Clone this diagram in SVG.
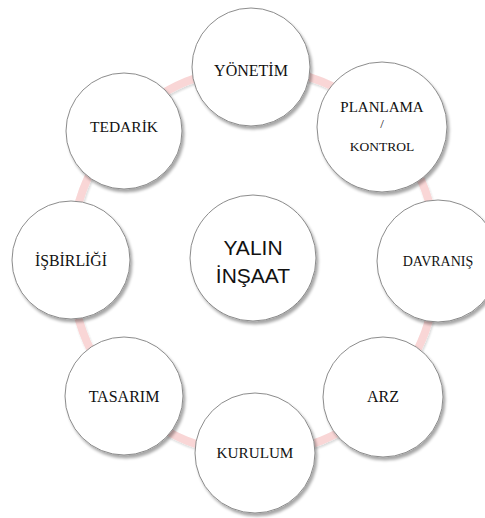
<svg xmlns="http://www.w3.org/2000/svg" width="485" height="518" viewBox="0 0 485 518">
  <defs>
    <filter id="sh" x="-20%" y="-20%" width="140%" height="140%">
      <feGaussianBlur in="SourceAlpha" stdDeviation="1.8"/>
      <feOffset dx="1.5" dy="2.5" result="b"/>
      <feComponentTransfer><feFuncA type="linear" slope="0.35"/></feComponentTransfer>
      <feMerge><feMergeNode/><feMergeNode in="SourceGraphic"/></feMerge>
    </filter>
    <filter id="rsh" x="-10%" y="-10%" width="120%" height="120%">
      <feGaussianBlur in="SourceAlpha" stdDeviation="1"/>
      <feOffset dx="0.5" dy="1.5" result="b"/>
      <feComponentTransfer><feFuncA type="linear" slope="0.15"/></feComponentTransfer>
      <feMerge><feMergeNode/><feMergeNode in="SourceGraphic"/></feMerge>
    </filter>
  </defs>
  <style>
    .node circle { fill: #ffffff; stroke: #7f7f7f; stroke-width: 0.9; filter: url(#sh); }
    .lbl { font-family: "Liberation Serif", "Times New Roman", serif; fill: #111111; text-anchor: middle; }
    .ctr { font-family: "Liberation Sans", Arial, sans-serif; font-size: 21px; fill: #111111; text-anchor: middle; }
    .ring { fill: none; stroke: #f9d6d6; stroke-width: 8; filter: url(#rsh); }
  </style>
  <rect width="485" height="518" fill="#ffffff"/>
  <g id="connectors">
    <ellipse class="ring" cx="254" cy="261" rx="184" ry="193"/>
  </g>
  <g id="center" class="node">
    <circle cx="253" cy="258" r="63"/>
    <text class="ctr" x="253" y="255">YALIN</text>
    <text class="ctr" x="253" y="283">İNŞAAT</text>
  </g>
  <g id="yonetim" class="node">
    <circle cx="251" cy="67" r="59"/>
    <text class="lbl" x="251" y="76" font-size="16">YÖNETİM</text>
  </g>
  <g id="planlama" class="node">
    <circle cx="382" cy="127" r="65"/>
    <text class="lbl" x="382" y="112" font-size="15">PLANLAMA</text>
    <text class="lbl" x="382" y="128" font-size="13">/</text>
    <text class="lbl" x="382" y="151" font-size="13.5">KONTROL</text>
  </g>
  <g id="davranis" class="node">
    <circle cx="438" cy="261" r="61"/>
    <text class="lbl" x="438" y="266" font-size="14">DAVRANIŞ</text>
  </g>
  <g id="arz" class="node">
    <circle cx="383" cy="397" r="60"/>
    <text class="lbl" x="383" y="402" font-size="16">ARZ</text>
  </g>
  <g id="kurulum" class="node">
    <circle cx="255" cy="453" r="60"/>
    <text class="lbl" x="255" y="458" font-size="15.2">KURULUM</text>
  </g>
  <g id="tasarim" class="node">
    <circle cx="124" cy="396" r="59"/>
    <text class="lbl" x="124" y="402" font-size="16">TASARIM</text>
  </g>
  <g id="isbirligi" class="node">
    <circle cx="71" cy="260" r="59"/>
    <text class="lbl" x="71" y="266" font-size="15.8">İŞBİRLİĞİ</text>
  </g>
  <g id="tedarik" class="node">
    <circle cx="124" cy="131" r="58"/>
    <text class="lbl" x="124" y="132" font-size="15.5">TEDARİK</text>
  </g>
</svg>
